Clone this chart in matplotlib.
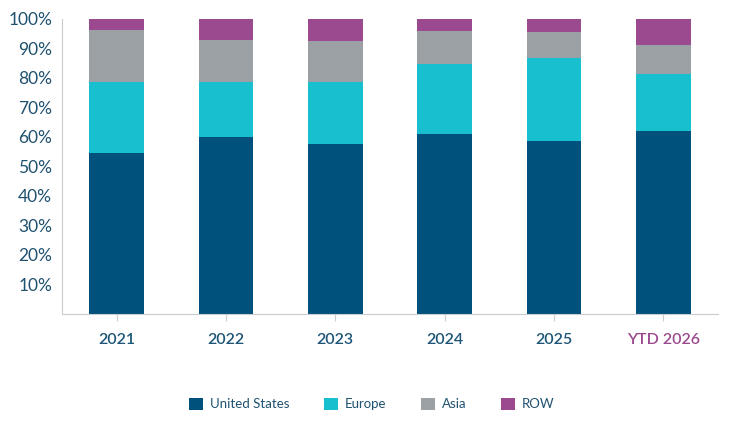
import matplotlib.pyplot as plt
from matplotlib.patches import Patch

plt.rcParams['font.family'] = ['Lato', 'DejaVu Sans']

years = ["2021", "2022", "2023", "2024", "2025", "YTD 2026"]
us = [54.6, 60.0, 57.5, 60.9, 58.5, 61.9]
europe = [24.0, 18.6, 21.1, 23.8, 28.2, 19.4]
asia = [17.5, 14.0, 13.8, 11.1, 8.7, 9.7]
row = [3.9, 7.4, 7.6, 4.2, 4.6, 9.0]

names = ["United States", "Europe", "Asia", "ROW"]
colors = ["#00517c", "#17bfcf", "#9aa0a3", "#9b4a8f"]
text_col = "#1f5170"

fig = plt.figure(figsize=(7.3, 4.38), dpi=100)
ax = fig.add_axes([62 / 730, 1 - 314 / 438, 656 / 730, 295.5 / 438])

x = range(len(years))
bottom = [0] * len(years)
for vals, c in zip([us, europe, asia, row], colors):
    ax.bar(x, vals, 0.5, bottom=bottom, color=c)
    bottom = [b + v for b, v in zip(bottom, vals)]

ax.set_xlim(-0.5, 5.5)
ax.set_ylim(0, 100)
ax.set_yticks(range(10, 101, 10))
ax.set_yticklabels([f"{t}%" for t in range(10, 101, 10)], fontsize=12.5, color=text_col)
ax.tick_params(axis="y", length=0, pad=7)
ax.set_xticks(list(x))
ax.set_xticklabels(years, fontsize=11.5, fontweight="semibold", color="#1d5578")
ax.get_xticklabels()[-1].set_color("#9b4a8f")
ax.tick_params(axis="x", length=5, color="#c8ccd0", pad=9)

for s in ["top", "right"]:
    ax.spines[s].set_visible(False)
for s in ["left", "bottom"]:
    ax.spines[s].set_color("#c8ccd0")

handles = [Patch(facecolor=c, label=n) for n, c in zip(names, colors)]
leg = fig.legend(handles=handles, loc="center", bbox_to_anchor=(372 / 730, 1 - 404 / 438),
                 ncol=4, frameon=False, fontsize=9.5, handlelength=1.05, handleheight=1.05,
                 columnspacing=2.6, handletextpad=0.55)
for t in leg.get_texts():
    t.set_color(text_col)

fig.savefig("out.png", dpi=100)
